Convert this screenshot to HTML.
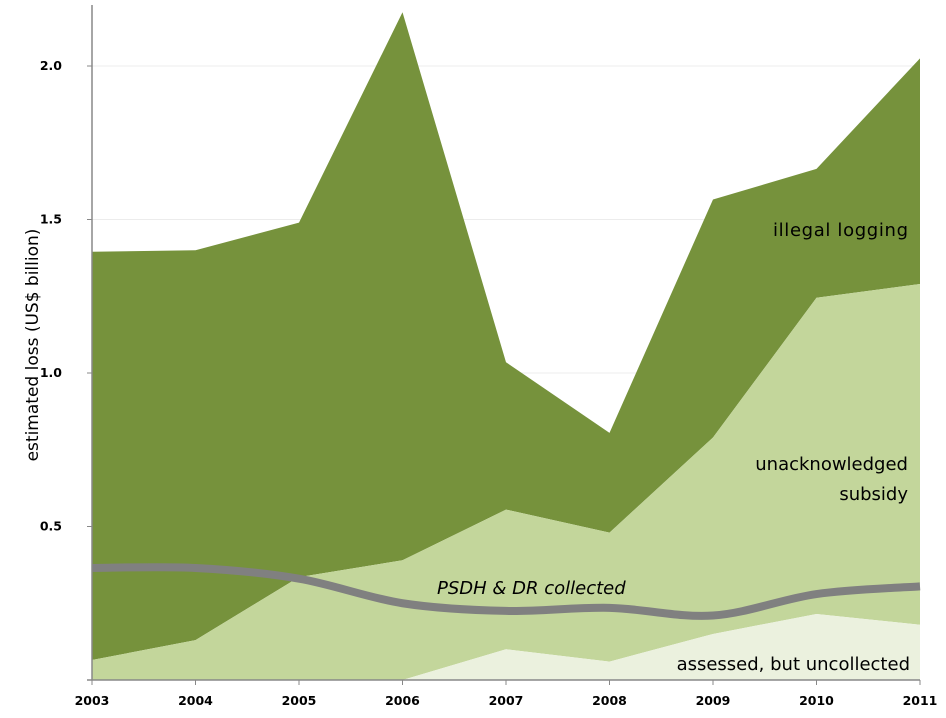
<!DOCTYPE html>
<html><head><meta charset="utf-8"><style>
body{margin:0;background:#fff;}
svg{display:block;font-family:"DejaVu Sans","Liberation Sans",sans-serif;}
</style></head><body>
<svg id="chart" width="946" height="718" viewBox="0 0 946 718">
<g id="grid"></g><g id="areas"></g><g id="line"></g><g id="axes"></g><g id="labels"></g>
</svg>
<script>
const years=[2003,2004,2005,2006,2007,2008,2009,2010,2011];
const assessed=[0,0,0,0,0.10,0.06,0.15,0.215,0.18];
const unackTop=[0.065,0.13,0.335,0.39,0.555,0.48,0.79,1.245,1.29];
const illegalTop=[1.395,1.40,1.49,2.175,1.035,0.805,1.565,1.665,2.025];
const psdh=[0.365,0.365,0.33,0.25,0.225,0.235,0.21,0.28,0.305];
const yTicks=[0.5,1.0,1.5,2.0];
const yTickLabels=["0.5","1.0","1.5","2.0"];
const NS="http://www.w3.org/2000/svg";
const X=i=>92+i*103.5;
const Y=v=>680-v*307;
function mk(tag,attrs,parent){const e=document.createElementNS(NS,tag);for(const k in attrs)e.setAttribute(k,attrs[k]);parent.appendChild(e);return e;}
const grid=document.getElementById('grid'),areas=document.getElementById('areas'),line=document.getElementById('line'),axes=document.getElementById('axes'),labels=document.getElementById('labels');
yTicks.forEach((t,i)=>{
 const g=mk('line',{x1:92,x2:920,y1:Y(t),y2:Y(t),stroke:'#ececec','stroke-width':1},grid);
 
 
 const tx=mk('text',{x:62,y:Y(t)+4,'text-anchor':'end','font-size':12.5,'font-weight':'bold',fill:'#000'},axes);
 tx.textContent=yTickLabels[i];
 
 
 mk('line',{x1:87,x2:92,y1:Y(t),y2:Y(t),stroke:'#888'},axes);
});
function area(top,bot,fill,name){
 let d='M'+X(0)+','+Y(top[0]);
 for(let i=1;i<years.length;i++)d+=' L'+X(i)+','+Y(top[i]);
 for(let i=years.length-1;i>=0;i--)d+=' L'+X(i)+','+Y(bot[i]);
 const p=mk('path',{d:d+'Z',fill:fill},areas);
 
 
}
const zeros=years.map(()=>0);
area(illegalTop,unackTop,'#76923c','area-illegal-logging');
area(unackTop,assessed,'#c3d69b','area-unacknowledged-subsidy');
area(assessed,zeros,'#ebf1de','area-assessed-uncollected');
const pts=psdh.map((v,i)=>[X(i),Y(v)]);
let d='M'+pts[0][0]+','+pts[0][1];
for(let i=0;i<pts.length-1;i++){
 const p0=pts[Math.max(0,i-1)],p1=pts[i],p2=pts[i+1],p3=pts[Math.min(pts.length-1,i+2)];
 const c1=[p1[0]+(p2[0]-p0[0])/6,p1[1]+(p2[1]-p0[1])/6],c2=[p2[0]-(p3[0]-p1[0])/6,p2[1]-(p3[1]-p1[1])/6];
 d+=` C${c1[0]},${c1[1]} ${c2[0]},${c2[1]} ${p2[0]},${p2[1]}`;
}
const ln=mk('path',{d:d,fill:'none',stroke:'#808080','stroke-width':8},line);


mk('line',{x1:92,x2:92,y1:5,y2:680,stroke:'#888','stroke-width':1.5},axes);
mk('line',{x1:87,x2:920,y1:680,y2:680,stroke:'#888','stroke-width':1.5},axes);
years.forEach((yr,i)=>{
 mk('line',{x1:X(i),x2:X(i),y1:680,y2:685,stroke:'#888'},axes);
 const t=mk('text',{x:X(i),y:705,'text-anchor':'middle','font-size':12.5,'font-weight':'bold'},axes);
 t.textContent=yr;
 
 
});
</script>
<svg style="position:absolute;left:0;top:0" width="946" height="718">
<text transform="translate(38,345) rotate(-90)" text-anchor="middle" font-family="DejaVu Sans,sans-serif" font-size="17">estimated loss (US$ billion)</text>
<text x="908" y="236" text-anchor="end" font-family="DejaVu Sans,sans-serif" font-size="18" textLength="135">illegal logging</text>
<text x="908" y="470" text-anchor="end" font-family="DejaVu Sans,sans-serif" font-size="18">unacknowledged</text>
<text x="908" y="500" text-anchor="end" font-family="DejaVu Sans,sans-serif" font-size="18">subsidy</text>
<text x="437" y="594" font-family="DejaVu Sans,sans-serif" font-style="italic" font-size="18">PSDH &amp; DR collected</text>
<text x="910" y="670" text-anchor="end" font-family="DejaVu Sans,sans-serif" font-size="18">assessed, but uncollected</text>
</svg>
</body></html>
